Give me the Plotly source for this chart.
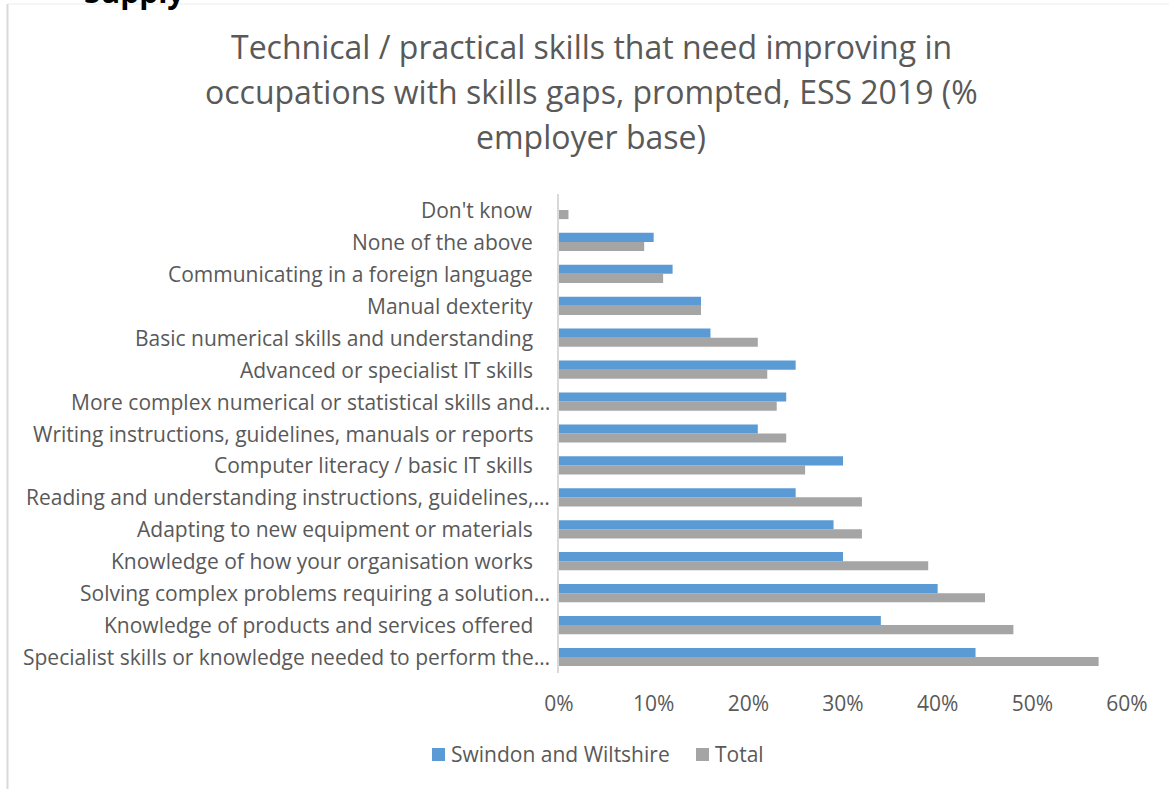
import plotly.graph_objects as go

# Skill categories, listed bottom to top as they appear on the axis
categories = [
    "Specialist skills or knowledge needed to perform the…",
    "Knowledge of products and services offered",
    "Solving complex problems requiring a solution…",
    "Knowledge of how your organisation works",
    "Adapting to new equipment or materials",
    "Reading and understanding instructions, guidelines,…",
    "Computer literacy / basic IT skills",
    "Writing instructions, guidelines, manuals or reports",
    "More complex numerical or statistical skills and…",
    "Advanced or specialist IT skills",
    "Basic numerical skills and understanding",
    "Manual dexterity",
    "Communicating in a foreign language",
    "None of the above",
    "Don't know",
]
swindon = [0.44, 0.34, 0.40, 0.30, 0.29, 0.25, 0.30, 0.21, 0.24, 0.25, 0.16, 0.15, 0.12, 0.10, 0.00]
total = [0.57, 0.48, 0.45, 0.39, 0.32, 0.32, 0.26, 0.24, 0.23, 0.22, 0.21, 0.15, 0.11, 0.09, 0.01]
x_ticks = [0, 0.1, 0.2, 0.3, 0.4, 0.5, 0.6]
series_names = ["Swindon and Wiltshire", "Total"]
title_lines = [
    "Technical / practical skills that need improving in",
    "occupations with skills gaps, prompted, ESS 2019 (%",
    "employer base)",
]

BLUE = "#5B9BD5"
GREY = "#A5A5A5"
TEXT = "#595959"
FONT = "Open Sans"

W, H = 1169, 789
L, R, T, B = 559, 1127, 194, 673


def px(x):
    return (x - L) / (R - L)


def py(y):
    return (B - y) / (B - T)


fig = go.Figure()
# Total first so the Swindon bar sits above it within each group
fig.add_trace(go.Bar(y=categories, x=total, orientation="h", name=series_names[1],
                     marker=dict(color=GREY, line=dict(width=0))))
fig.add_trace(go.Bar(y=categories, x=swindon, orientation="h", name=series_names[0],
                     marker=dict(color=BLUE, line=dict(width=0))))

annotations = []
shapes = []

# Chart title, three centred lines
for i, line in enumerate(title_lines):
    annotations.append(dict(text=line, xref="paper", yref="paper",
                            x=px(591), y=py(46.5 + 45 * i), xanchor="center", yanchor="middle",
                            showarrow=False, font=dict(family=FONT, size=32, color=TEXT)))

# Category labels; truncated ones let the ellipsis run past the label column
for cat in categories:
    right = 552 if cat.endswith("…") else 535
    annotations.append(dict(text=cat, xref="paper", yref="y", x=px(right), y=cat,
                            xanchor="right", yanchor="middle", showarrow=False,
                            font=dict(family=FONT, size=21, color=TEXT)))

# Legend: swatch + label pairs
legend_items = [(series_names[0], BLUE, 432), (series_names[1], GREY, 696)]
for name, col, x0 in legend_items:
    shapes.append(dict(type="rect", xref="paper", yref="paper",
                       x0=px(x0), x1=px(x0 + 13), y0=py(761), y1=py(748),
                       fillcolor=col, line=dict(width=0)))
    annotations.append(dict(text=name, xref="paper", yref="paper", x=px(x0 + 17), y=py(754),
                            xanchor="left", yanchor="middle", showarrow=False,
                            font=dict(family=FONT, size=21, color=TEXT)))

# Heading of the surrounding page, mostly above the top edge
annotations.append(dict(text="<b>Supply</b>", xref="paper", yref="paper", x=px(187), y=py(-9),
                        xanchor="right", yanchor="middle", showarrow=False,
                        font=dict(family=FONT, size=30, color="#000000")))

# Chart frame edges
shapes.append(dict(type="line", xref="paper", yref="paper", x0=px(7.5), x1=px(7.5),
                   y0=py(4), y1=py(800), line=dict(color="#D9D9D9", width=2)))
shapes.append(dict(type="line", xref="paper", yref="paper", x0=px(8), x1=px(1180),
                   y0=py(4), y1=py(4), line=dict(color="#ECECEC", width=1)))

fig.update_layout(
    width=W, height=H,
    margin=dict(l=L, r=W - R, t=T, b=H - B, pad=0),
    paper_bgcolor="white", plot_bgcolor="white",
    barmode="group", bargap=0.43, bargroupgap=0,
    showlegend=False,
    font=dict(family=FONT, color=TEXT),
    annotations=annotations, shapes=shapes,
)
fig.update_xaxes(range=[0, 0.6], tickvals=x_ticks, tickformat=".0%", showgrid=False,
                 zeroline=False, showline=False, ticks="", ticklabelstandoff=16,
                 tickfont=dict(family=FONT, size=21, color=TEXT))
fig.update_yaxes(type="category", categoryorder="array", categoryarray=categories,
                 showticklabels=False, showgrid=False, zeroline=False,
                 showline=True, linecolor="#D9D9D9", linewidth=2, ticks="")

fig.write_html("out.html")
